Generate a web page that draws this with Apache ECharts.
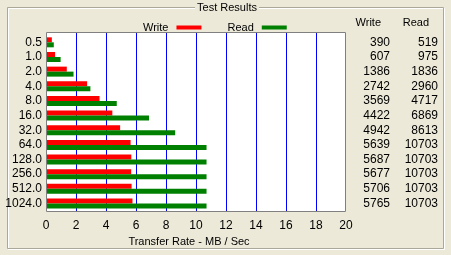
<!DOCTYPE html>
<html>
<head>
<meta charset="utf-8">
<script src="https://cdn.jsdelivr.net/npm/echarts@6/dist/echarts.min.js"></script>
<style>
html,body{margin:0;padding:0;background:#ECE9D8;}
#c{width:451px;height:255px;}
</style>
</head>
<body>
<div id="c"></div>
<script>
var categories = ['0.5','1.0','2.0','4.0','8.0','16.0','32.0','64.0','128.0','256.0','512.0','1024.0'];
var writeKB = [390,607,1386,2742,3569,4422,4942,5639,5687,5677,5706,5765];
var readKB  = [519,975,1836,2960,4717,6869,8613,10703,10703,10703,10703,10703];
var xTicks = [0,2,4,6,8,10,12,14,16,18,20];

var FONT = '"Liberation Sans", Arial, sans-serif';
var writeMB = writeKB.map(function(v){return v/1000;});
var readMB = readKB.map(function(v){return v/1000;});

var splitColors = xTicks.map(function(v,i){return (i===0||i===xTicks.length-1)?'rgba(0,0,0,0)':'#0000FF';});

var chart = echarts.init(document.getElementById('c'), null, {renderer:'canvas'});
function hiddenCat(extra){
  var o = {type:'category', data:categories, inverse:true, gridIndex:1,
    axisLine:{show:false}, axisTick:{show:false}, splitLine:{show:false}, splitArea:{show:false}};
  for (var k in extra) o[k] = extra[k];
  return o;
}
chart.setOption({
  backgroundColor:'#ECE9D8',
  animation:false,
  textStyle:{fontFamily:FONT},
  graphic:[
    {type:'rect', shape:{x:8.5,y:8.5,width:436,height:241}, style:{fill:null, stroke:'#fff', lineWidth:1}, silent:true, z:-20},
    {type:'rect', shape:{x:7.5,y:7.5,width:436,height:241}, style:{fill:null, stroke:'#ACA899', lineWidth:1}, silent:true, z:-20},
    {type:'rect', shape:{x:195,y:2,width:64,height:12}, style:{fill:'#ECE9D8'}, silent:true, z:-19},
    {type:'text', x:227, y:8, style:{text:'Test Results', fill:'#000', font:'11px '+FONT, textAlign:'center', textVerticalAlign:'middle'}, z:2},
    {type:'text', x:381, y:23, style:{text:'Write', fill:'#000', font:'11px '+FONT, textAlign:'right', textVerticalAlign:'middle'}, z:2},
    {type:'text', x:429, y:23, style:{text:'Read', fill:'#000', font:'11px '+FONT, textAlign:'right', textVerticalAlign:'middle'}, z:2},
    {type:'rect', shape:{x:46,y:32,width:300,height:180}, style:{fill:'#fff'}, silent:true, z:-10},
    {type:'rect', shape:{x:46.5,y:32.5,width:299,height:179}, style:{fill:null, stroke:'#808080', lineWidth:1}, silent:true, z:50}
  ],
  legend:{
    top:17, left:138,
    itemWidth:25, itemHeight:4, itemGap:26,
    align:'right',
    icon:'rect',
    textStyle:{fontFamily:FONT, fontSize:11, color:'#000', padding:[0,3,0,0]},
    data:['Write','Read']
  },
  grid:[
    {left:46, top:32, width:300, height:179, show:false},
    {left:46, top:35, width:300, height:175.8}
  ],
  xAxis:[
    {type:'value', min:0, max:20, interval:2, gridIndex:0,
      axisLine:{show:false}, axisTick:{show:false},
      splitLine:{show:true, lineStyle:{color:splitColors, width:1, type:'solid'}},
      axisLabel:{fontFamily:FONT, fontSize:12, color:'#000', margin:9,
        formatter:function(v){return xTicks.indexOf(v)>=0?String(v):'';}},
      name:'Transfer Rate - MB / Sec', nameLocation:'middle', nameGap:23,
      nameTextStyle:{fontFamily:FONT, fontSize:11, color:'#000', padding:[0,14,0,0]}},
    {type:'value', min:0, max:20, gridIndex:1, show:false,
      splitLine:{show:false}, axisLabel:{show:false}, axisLine:{show:false}, axisTick:{show:false}}
  ],
  yAxis:[
    {type:'category', data:categories, gridIndex:0, show:false, splitLine:{show:false}},
    hiddenCat({axisLabel:{fontFamily:FONT, fontSize:12, color:'#000', margin:4, interval:0}}),
    hiddenCat({position:'right',
      axisLabel:{fontFamily:FONT, fontSize:12, color:'#000', margin:44, align:'right', interval:0,
        formatter:function(v,i){return String(writeKB[i]);}}}),
    hiddenCat({position:'right', offset:48,
      axisLabel:{fontFamily:FONT, fontSize:12, color:'#000', margin:44, align:'right', interval:0,
        formatter:function(v,i){return String(readKB[i]);}}})
  ],
  series:[
    {name:'Write', type:'bar', data:writeMB, barWidth:5, barGap:'0%', itemStyle:{color:'#FF0000'}, xAxisIndex:1, yAxisIndex:1},
    {name:'Read', type:'bar', data:readMB, barWidth:5, barGap:'0%', itemStyle:{color:'#008000'}, xAxisIndex:1, yAxisIndex:1}
  ]
});
</script>
</body>
</html>
